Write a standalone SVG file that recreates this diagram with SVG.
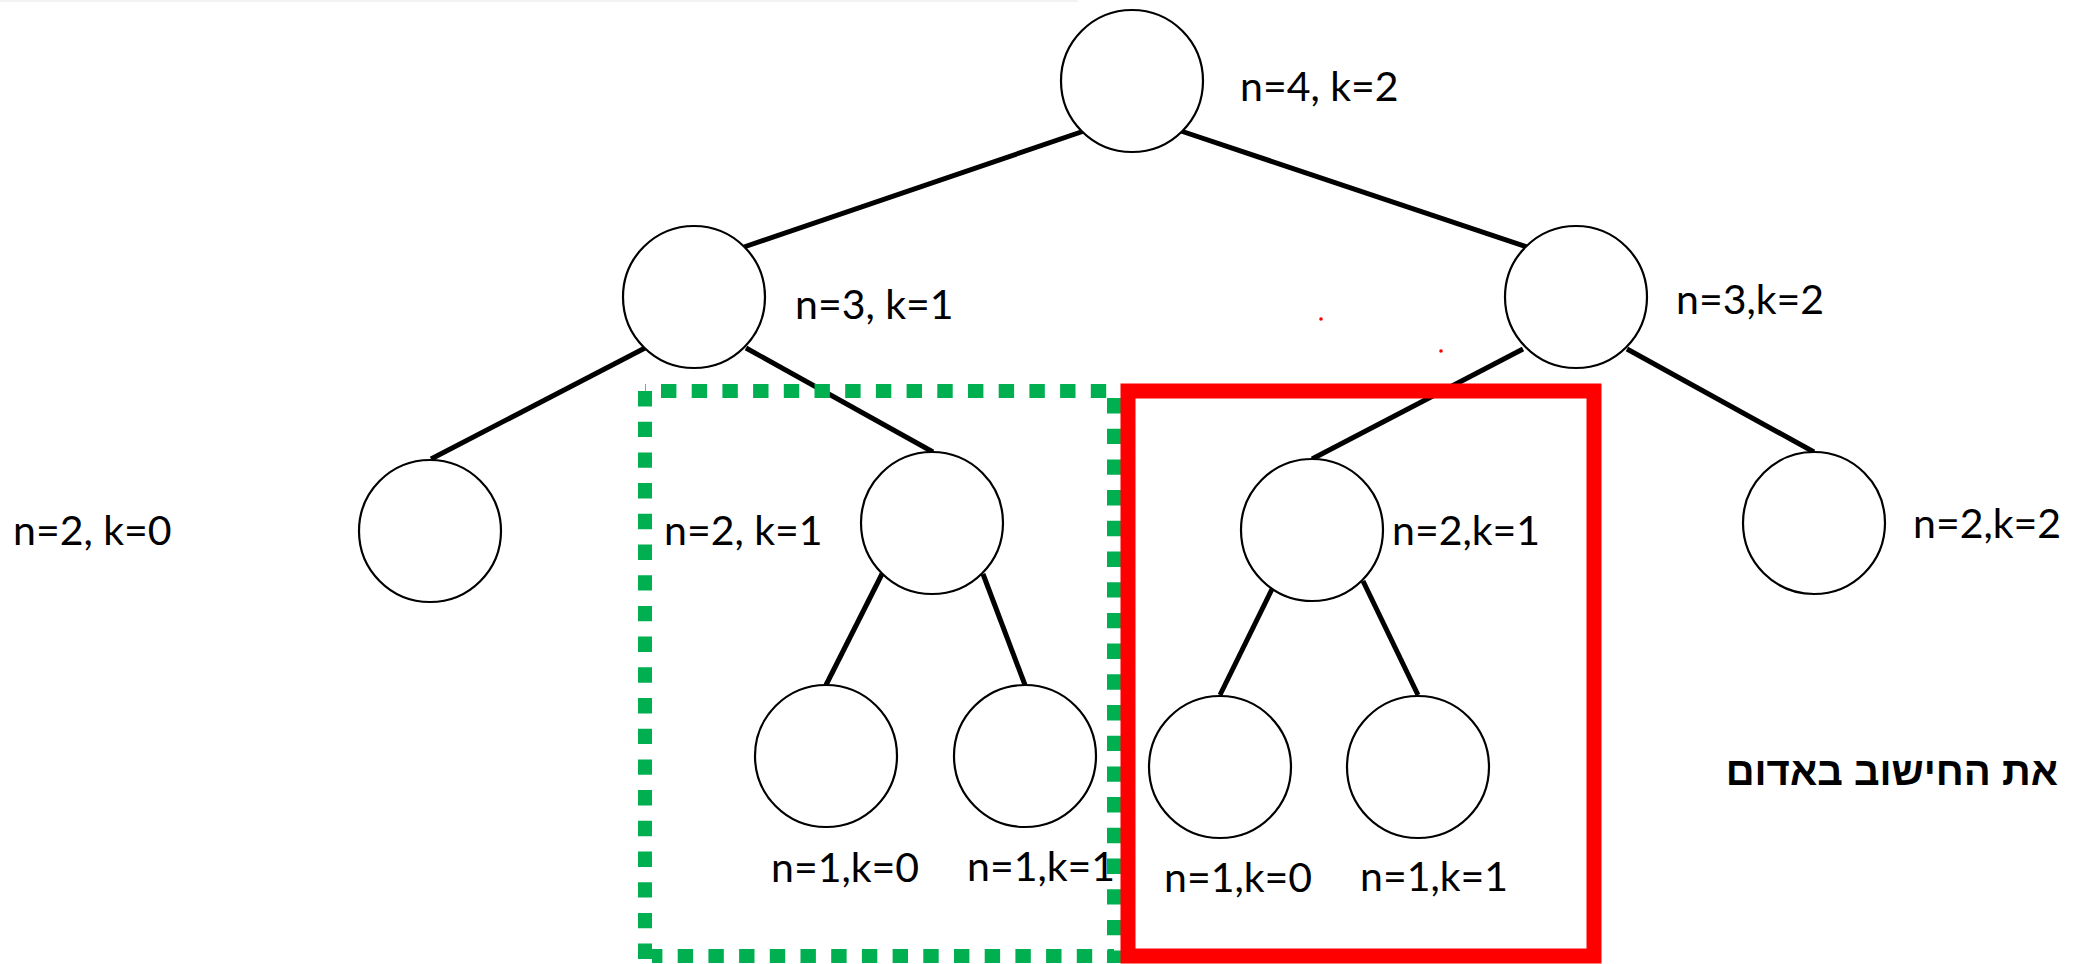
<svg xmlns="http://www.w3.org/2000/svg" width="2073" height="964" viewBox="0 0 2073 964">
  <style>
    .node { fill: #ffffff; stroke: #000000; stroke-width: 2.2; }
    .edge { stroke: #000000; stroke-width: 5; fill: none; }
    .lbl { font-family: Lato, "Liberation Sans", sans-serif; font-size: 41px; fill: #000000; }
    .heb { font-family: "Liberation Sans", "DejaVu Sans", sans-serif; font-size: 40px; font-weight: bold; fill: #000000; }
    .green { stroke: #00B050; stroke-width: 14; fill: none; stroke-dasharray: 15.4 15.3; }
    .red { stroke: #FF0000; stroke-width: 15; fill: none; }
  </style>

  <rect x="0" y="0" width="2073" height="964" fill="#ffffff"/>
  <rect x="0" y="0" width="1078" height="2" fill="#f3f3f3"/>

  <!-- tree edges -->
  <g id="connectors">
    <line class="edge" x1="1084" y1="131" x2="744" y2="247"/>
    <line class="edge" x1="1181" y1="131" x2="1527" y2="247"/>
    <line class="edge" x1="645" y1="348" x2="431" y2="459"/>
    <line class="edge" x1="746" y1="348" x2="933" y2="452"/>
    <line class="edge" x1="1523" y1="349" x2="1312" y2="459"/>
    <line class="edge" x1="1627" y1="349" x2="1814" y2="452"/>
    <line class="edge" x1="882" y1="574" x2="826" y2="685"/>
    <line class="edge" x1="983" y1="574" x2="1025" y2="685"/>
    <line class="edge" x1="1274" y1="585" x2="1220" y2="695"/>
    <line class="edge" x1="1363" y1="581" x2="1418" y2="695"/>
  </g>

  <!-- nodes -->
  <g id="node-4-2">
    <circle class="node" cx="1132" cy="81" r="71"/>
    <text class="lbl" x="1240" y="101">n=4, k=2</text>
  </g>
  <g id="node-3-1">
    <circle class="node" cx="694" cy="297" r="71"/>
    <text class="lbl" x="795" y="319">n=3, k=1</text>
  </g>
  <g id="node-3-2">
    <circle class="node" cx="1576" cy="297" r="71"/>
    <text class="lbl" x="1676" y="314">n=3,k=2</text>
  </g>
  <g id="node-2-0">
    <circle class="node" cx="430" cy="531" r="71"/>
    <text class="lbl" x="13" y="545">n=2, k=0</text>
  </g>
  <g id="node-2-1-a">
    <circle class="node" cx="932" cy="523" r="71"/>
    <text class="lbl" x="664" y="545">n=2, k=1</text>
  </g>
  <g id="node-2-1-b">
    <circle class="node" cx="1312" cy="530" r="71"/>
    <text class="lbl" x="1392" y="545">n=2,k=1</text>
  </g>
  <g id="node-2-2">
    <circle class="node" cx="1814" cy="523" r="71"/>
    <text class="lbl" x="1913" y="538">n=2,k=2</text>
  </g>
  <g id="node-1-0-a">
    <circle class="node" cx="826" cy="756" r="71"/>
    <text class="lbl" x="771" y="882">n=1,k=0</text>
  </g>
  <g id="node-1-1-a">
    <circle class="node" cx="1025" cy="756" r="71"/>
    <text class="lbl" x="967" y="881">n=1,k=1</text>
  </g>
  <g id="node-1-0-b">
    <circle class="node" cx="1220" cy="767" r="71"/>
    <text class="lbl" x="1164" y="892">n=1,k=0</text>
  </g>
  <g id="node-1-1-b">
    <circle class="node" cx="1418" cy="767" r="71"/>
    <text class="lbl" x="1360" y="891">n=1,k=1</text>
  </g>

  <!-- highlight frames -->
  <g id="frame-green">
    <line class="green" x1="645" y1="391" x2="1114" y2="391" stroke-dashoffset="14.7"/>
    <line class="green" x1="645" y1="391" x2="645" y2="963"/>
    <line class="green" x1="1114" y1="398" x2="1114" y2="963"/>
    <line class="green" x1="652" y1="956" x2="1114" y2="956" stroke-dashoffset="5"/>
  </g>
  <g id="frame-red">
    <rect class="red" x="1128" y="391" width="466" height="565"/>
  </g>

  <!-- stray marks -->
  <circle cx="1321" cy="319" r="1.8" fill="#FF0000"/>
  <circle cx="1441" cy="351" r="1.8" fill="#FF0000"/>

  <g id="note">
    <text class="heb" x="2058" y="785" text-anchor="end">את החישוב באדום</text>
  </g>
</svg>
